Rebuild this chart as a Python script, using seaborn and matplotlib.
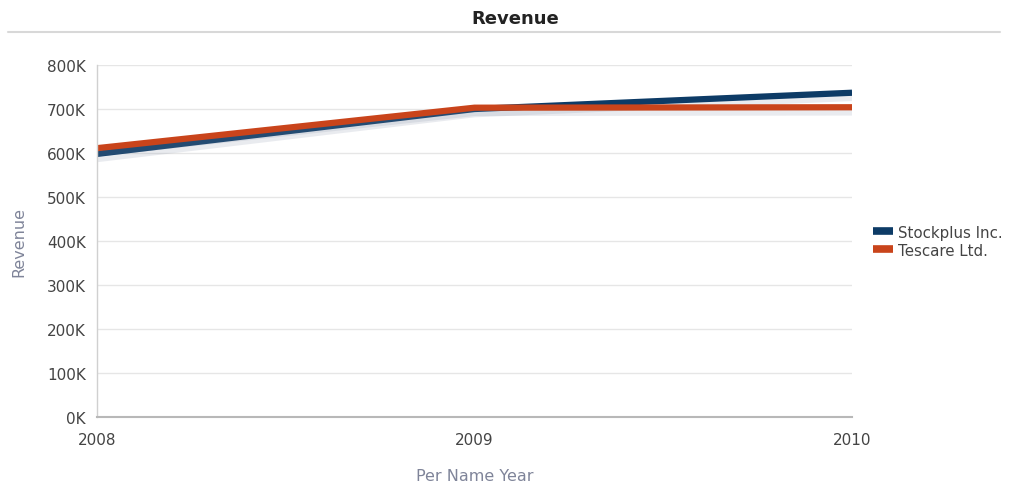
import matplotlib
matplotlib.use("Agg")
import matplotlib.pyplot as plt
import matplotlib.patheffects as pe
from matplotlib.lines import Line2D
import seaborn as sns
import pandas as pd

years = [2008, 2009, 2010]
stockplus = [598000, 700000, 737000]
tescare = [611000, 703000, 704000]
series_names = ["Stockplus Inc.", "Tescare Ltd."]
yticks = [0, 100000, 200000, 300000, 400000, 500000, 600000, 700000, 800000]
ytick_labels = ["0K", "100K", "200K", "300K", "400K", "500K", "600K", "700K", "800K"]

df = pd.DataFrame({
    "Year": years * 2,
    "Revenue": stockplus + tescare,
    "Company": [series_names[0]] * 3 + [series_names[1]] * 3,
})

sns.set_theme(style="white")
plt.rcParams['font.family'] = ['DejaVu Sans']

colors = {series_names[0]: "#0d3b66", series_names[1]: "#c9441b"}

fig = plt.figure(figsize=(10.1, 4.89), dpi=100)
ax = fig.add_axes([0.096, 0.1452, 0.7476, 0.7198])

sns.lineplot(data=df, x="Year", y="Revenue", hue="Company", palette=colors,
             linewidth=4.5, ax=ax, legend=False, sort=False)
for ln in ax.get_lines():
    ln.set_solid_capstyle("butt")
    ln.set_path_effects([pe.SimpleLineShadow(offset=(0, -3), shadow_color="#8a94aa", alpha=0.18, linewidth=6),
                         pe.Normal()])

ax.set_xlim(2008, 2010)
ax.set_ylim(0, 800000)
ax.set_xticks(years)
ax.set_xticklabels([str(y) for y in years], color="#444444", fontsize=11)
ax.set_yticks(yticks)
ax.set_yticklabels(ytick_labels, color="#444444", fontsize=11)
ax.tick_params(axis="both", length=0)
ax.tick_params(axis="y", pad=8)
ax.tick_params(axis="x", pad=11)

ax.yaxis.grid(True, color="#e6e6e6", linewidth=1)
ax.xaxis.grid(False)
for s in ["top", "right"]:
    ax.spines[s].set_visible(False)
ax.spines["left"].set_color("#d0d0d0")
ax.spines["left"].set_linewidth(1)
ax.spines["bottom"].set_color("#b8b8b8")
ax.spines["bottom"].set_linewidth(1.5)

ax.set_xlabel("Per Name Year", color="#7f8499", fontsize=11.5, labelpad=15)
ax.set_ylabel("Revenue", color="#7f8499", fontsize=11.5, labelpad=15)

fig.text(0.510, 0.962, "Revenue", ha="center", va="center", fontsize=13,
         fontweight="bold", color="#222222")
fig.add_artist(Line2D([0.008, 0.99], [0.933, 0.933], color="#d8d8d8", linewidth=1.5,
                      transform=fig.transFigure))

handles = [Line2D([0], [0], color=colors[n], linewidth=5.5, solid_capstyle="butt") for n in series_names]
leg = fig.legend(handles, series_names, loc="center left", bbox_to_anchor=(0.8645, 0.505),
                 frameon=False, fontsize=10.8, handlelength=1.3, handletextpad=0.35,
                 labelspacing=0.2, borderaxespad=0, borderpad=0)
for t in leg.get_texts():
    t.set_color("#444444")

fig.savefig("out.png", dpi=100)
